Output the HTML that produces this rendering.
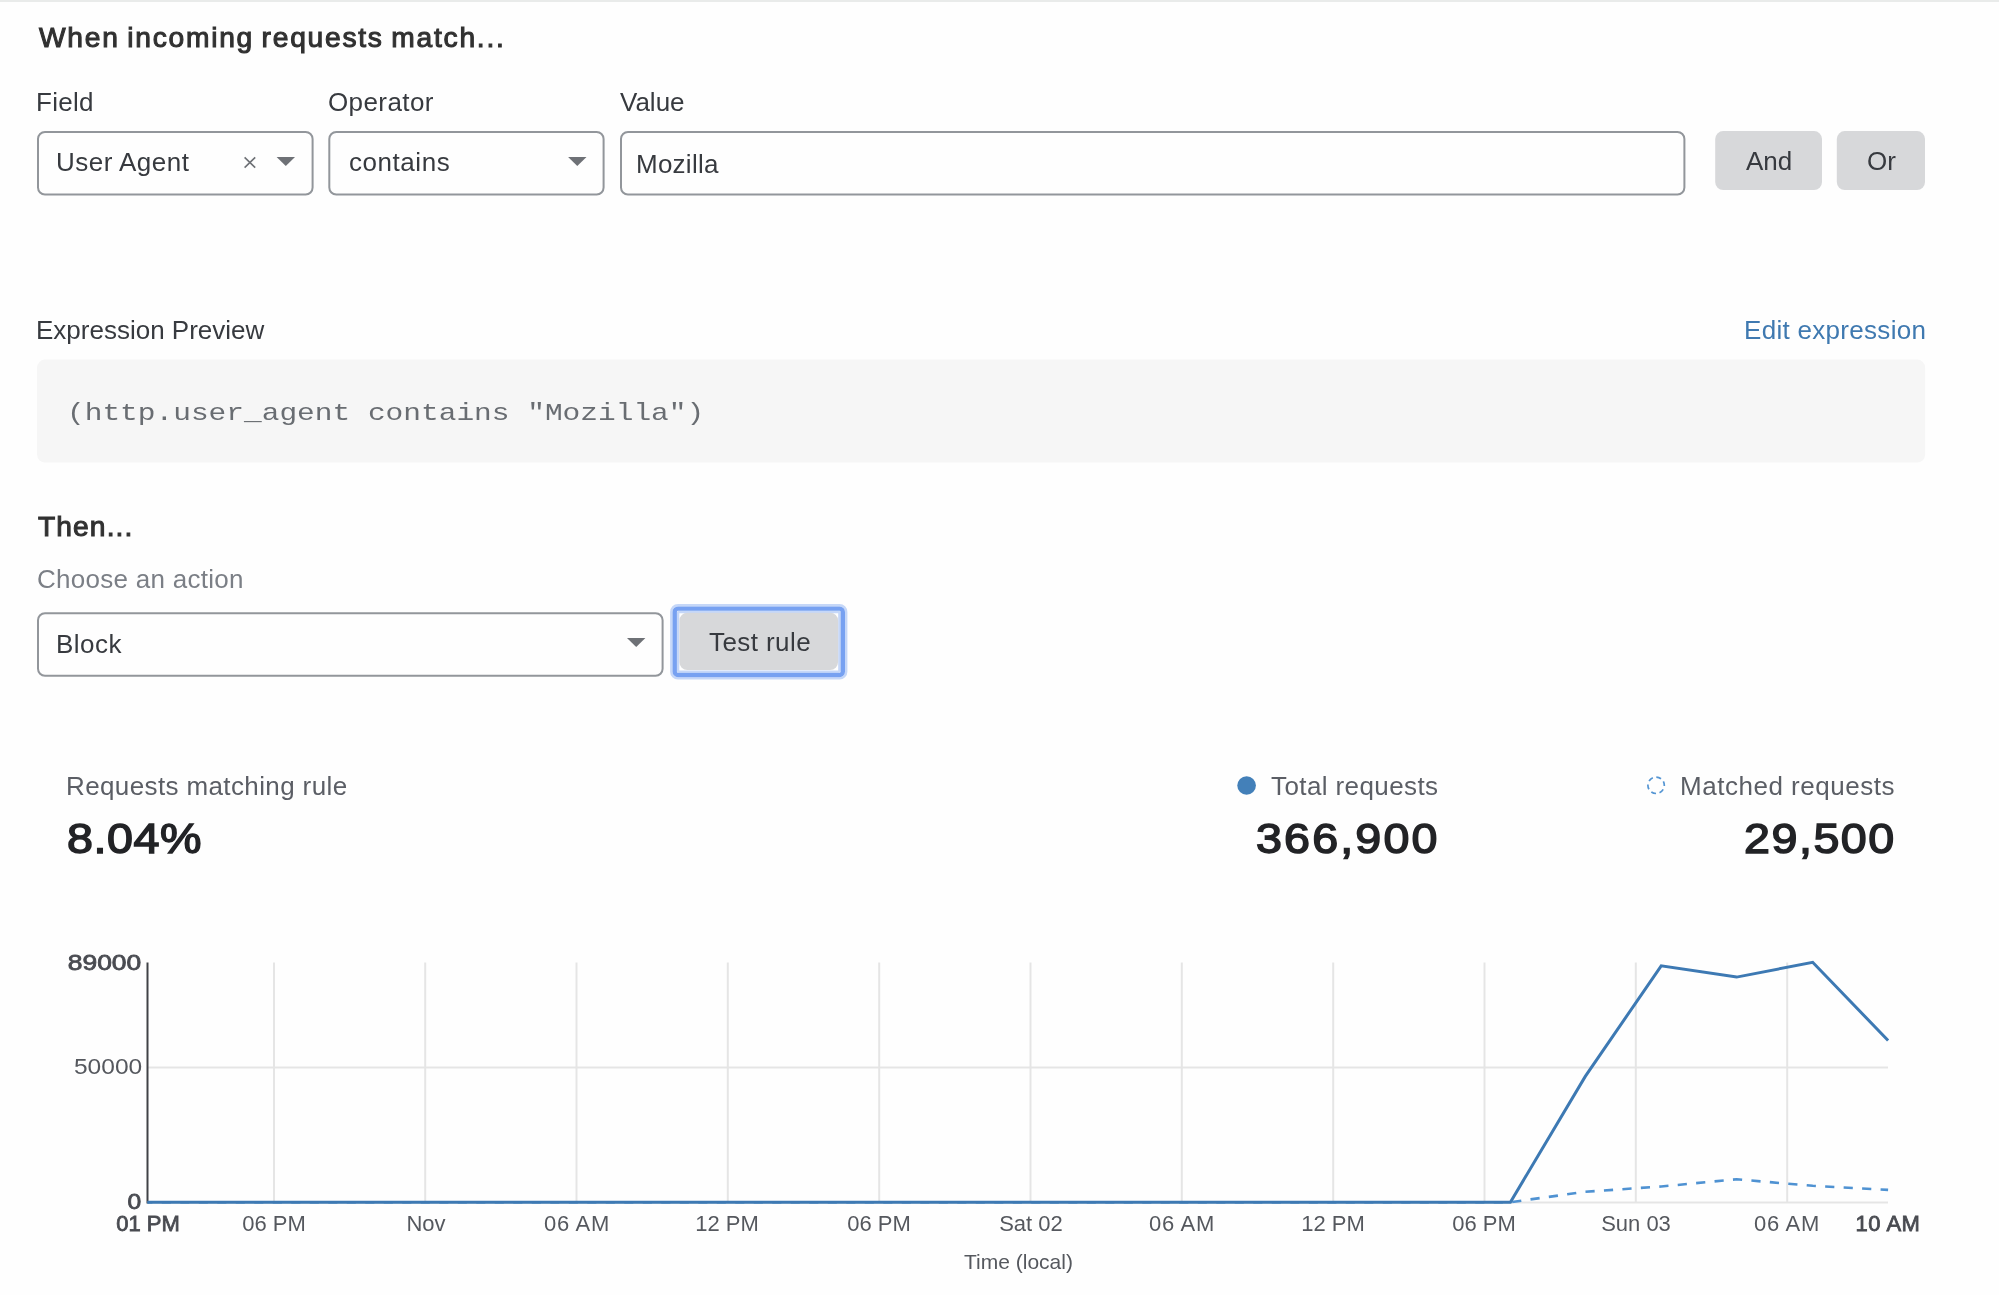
<!DOCTYPE html>
<html>
<head>
<meta charset="utf-8">
<title>Firewall rule</title>
<style>
  html, body { margin: 0; padding: 0; }
  body {
    width: 1999px; height: 1295px; overflow: hidden; position: relative;
    background: #fefefe;
    font-family: "Liberation Sans", sans-serif;
    color: #373a3f;
  }
  .topline { position: absolute; left: 0; top: 0; width: 1999px; height: 2px; background: #e9ebea; }
  .t { position: absolute; white-space: nowrap; line-height: 1; font-size: 26px; will-change: transform; }
  .h { font-weight: normal; font-size: 28.2px; color: #313131; -webkit-text-stroke: 1.05px #313131; letter-spacing: 1.75px; word-spacing: -2px; }
  .mono {
    position: absolute; white-space: pre; line-height: 1;
    font-family: "Liberation Mono", monospace; font-size: 24px; color: #696d72;
    transform: scaleX(1.229); transform-origin: 0 0; will-change: transform;
  }
  .big { font-size: 43.2px; color: #222326; -webkit-text-stroke: 1.5px #222326; transform: scaleX(1.08); transform-origin: 0 50%; }
  .muted { color: #5b5e65; }
  svg { position: absolute; left: 0; top: 0; }
  .ax { font-size: 22px; color: #55585e; }
  .axb { font-size: 22px; color: #494b51; font-weight: normal; -webkit-text-stroke: 0.8px #494b51; }
</style>
</head>
<body>
<div class="topline"></div>

<svg width="1999" height="1295" viewBox="0 0 1999 1295" id="shapes">
  <!-- inputs / selects -->
  <g fill="#fefefe" stroke="#92969b" stroke-width="2">
    <rect x="38" y="131.9" width="274.6" height="62.6" rx="7"/>
    <rect x="329.3" y="131.9" width="274.3" height="62.6" rx="7"/>
    <rect x="621" y="131.9" width="1063.4" height="62.6" rx="7"/>
    <rect x="38" y="613.2" width="624.6" height="62.6" rx="7"/>
  </g>
  <!-- clear icon -->
  <path d="M244.6 157.4 L255.2 167.6 M255.2 157.4 L244.6 167.6" stroke="#6e7176" stroke-width="1.6" fill="none"/>
  <!-- dropdown carets -->
  <g fill="#6e7176">
    <path d="M276.6 157 H295 L285.8 166 Z"/>
    <path d="M568.1 157 H586.5 L577.3 166 Z"/>
    <path d="M627 638 H645.4 L636.2 647 Z"/>
  </g>
  <!-- buttons -->
  <g fill="#d7d8da">
    <rect x="1715.2" y="131.1" width="106.8" height="58.9" rx="8"/>
    <rect x="1836.8" y="131.1" width="88.2" height="58.9" rx="8"/>
  </g>
  <!-- expression preview block -->
  <rect x="37.1" y="359.6" width="1888" height="103" rx="8" fill="#f6f6f6"/>
  <!-- focused Test rule button -->
  <rect x="671.3" y="605.2" width="174.9" height="73.2" rx="6.7" fill="none" stroke="#77a1f1" stroke-opacity="0.42" stroke-width="2.4"/>
  <rect x="674.7" y="608.6" width="168.1" height="66.4" rx="3.3" fill="none" stroke="#77a1f1" stroke-width="4.4"/>
  <rect x="678.1" y="612" width="161.3" height="59.6" rx="0.6" fill="none" stroke="#77a1f1" stroke-opacity="0.42" stroke-width="2.4"/>
  <rect x="679.4" y="612.7" width="158.7" height="57.3" rx="8" fill="#d7d8da"/>
</svg>

<!-- Section 1 -->
<div class="t h" id="h1" style="left:38.5px; top:23.4px;">When incoming requests match...</div>

<div class="t" id="lField" style="left:36px; top:88.6px; letter-spacing:0.3px;">Field</div>
<div class="t" id="lOperator" style="left:328px; top:88.6px; letter-spacing:0.4px;">Operator</div>
<div class="t" id="lValue" style="left:620px; top:88.6px;">Value</div>

<div class="t" id="tUA" style="left:56.4px; top:149.3px; letter-spacing:0.47px;">User Agent</div>

<div class="t" id="tContains" style="left:348.5px; top:149.3px; letter-spacing:0.55px;">contains</div>

<div class="t" id="tMozilla" style="left:635.6px; top:151.1px; letter-spacing:0.25px;">Mozilla</div>

<div class="t" id="tAnd" style="left:1746px; top:147.5px;">And</div>
<div class="t" id="tOr" style="left:1866.5px; top:147.5px;">Or</div>

<!-- Expression preview -->
<div class="t" id="tExpr" style="left:36px; top:317px;">Expression Preview</div>
<div class="t" id="tEdit" style="left:1743.5px; top:317px; color:#3f79b0; letter-spacing:0.3px;">Edit expression</div>
<div class="mono" id="tMono" style="left:67px; top:401.8px;">(http.user_agent contains "Mozilla")</div>

<!-- Then -->
<div class="t h" id="h2" style="left:38.4px; top:512.4px; letter-spacing:1.1px;">Then...</div>
<div class="t" id="tChoose" style="left:37.4px; top:566px; color:#7b7f86; letter-spacing:0.27px;">Choose an action</div>
<div class="t" id="tBlock" style="left:56.4px; top:631.1px; letter-spacing:0.45px;">Block</div>

<div class="t" id="tTest" style="left:709px; top:628.8px; letter-spacing:0.42px;">Test rule</div>

<!-- Stats -->
<div class="t muted" id="tReq" style="left:65.6px; top:773px; letter-spacing:0.38px;">Requests matching rule</div>
<div class="t big" id="tPct" style="left:66.8px; top:817px; letter-spacing:0.5px;">8.04%</div>

<div class="t muted" id="tTotal" style="left:1271.2px; top:772.8px; letter-spacing:0.4px;">Total requests</div>
<div class="t big" id="tTotalN" style="left:1255.5px; top:817px; letter-spacing:1.98px;">366,900</div>

<div class="t muted" id="tMatched" style="left:1680.3px; top:772.8px; letter-spacing:0.52px;">Matched requests</div>
<div class="t big" id="tMatchedN" style="left:1743.6px; top:817px; letter-spacing:1.4px;">29,500</div>

<!-- Chart -->
<svg width="1999" height="1295" viewBox="0 0 1999 1295" id="chart">
  <!-- legend markers -->
  <circle cx="1246.6" cy="785.5" r="9.3" fill="#4380b9"/>
  <circle cx="1656.1" cy="785.3" r="8.2" fill="none" stroke="#5495d3" stroke-width="1.7" stroke-dasharray="5 3.587" stroke-dashoffset="4.3"/>
  <!-- grid -->
  <g stroke="#e5e5e5" stroke-width="2" fill="none">
    <path d="M274 962.5V1202.5 M425.2 962.5V1202.5 M576.5 962.5V1202.5 M727.8 962.5V1202.5 M879.2 962.5V1202.5 M1030.5 962.5V1202.5 M1181.8 962.5V1202.5 M1333.2 962.5V1202.5 M1484.5 962.5V1202.5 M1635.8 962.5V1202.5 M1787.2 962.5V1202.5"/>
    <path d="M147.5 1067.6H1888 M147.5 1202.4H1888"/>
  </g>
  <!-- y axis -->
  <path d="M147.5 962.5V1203.5" stroke="#404246" stroke-width="2" fill="none"/>
  <!-- series -->
  <path d="M147.5 1202.2 H1510.4 L1585.3 1191.8 L1661.2 1186.5 L1736.6 1179.3 L1812.7 1185.8 L1888.1 1189.9" stroke="#4f92d2" stroke-width="2.6" fill="none" stroke-dasharray="9.2 9.3" stroke-dashoffset="4.3"/>
  <path d="M147.5 1202.2 H1510.4 L1585.3 1076.4 L1661.2 965.8 L1736.6 977.1 L1812.7 962.3 L1888.1 1040.5" stroke="#3d79b3" stroke-width="3" fill="none" stroke-linejoin="miter"/>
</svg>

<div class="t axb" id="y89" style="right:1858px; top:951.8px; transform:scaleX(1.2); transform-origin:100% 50%;">89000</div>
<div class="t ax"  id="y50" style="right:1856.6px; top:1056.4px; transform:scaleX(1.115); transform-origin:100% 50%;">50000</div>
<div class="t axb" id="y0"  style="right:1858px; top:1191.4px; transform:scaleX(1.12); transform-origin:100% 50%;">0</div>

<div class="t axb" id="x0"  style="left:87.6px; width:120px; text-align:center; top:1213.4px;">01 PM</div>
<div class="t ax" id="x1"  style="left:213.7px; width:120px; text-align:center; top:1213.4px;">06 PM</div>
<div class="t ax" id="x2"  style="left:365.5px; width:120px; text-align:center; top:1213.4px;">Nov</div>
<div class="t ax" id="x3"  style="left:516.6px; width:120px; text-align:center; top:1213.4px; letter-spacing:0.7px;">06 AM</div>
<div class="t ax" id="x4"  style="left:667.4px; width:120px; text-align:center; top:1213.4px;">12 PM</div>
<div class="t ax" id="x5"  style="left:819.0px; width:120px; text-align:center; top:1213.4px;">06 PM</div>
<div class="t ax" id="x6"  style="left:970.6px; width:120px; text-align:center; top:1213.4px;">Sat 02</div>
<div class="t ax" id="x7"  style="left:1121.7px; width:120px; text-align:center; top:1213.4px; letter-spacing:0.7px;">06 AM</div>
<div class="t ax" id="x8"  style="left:1273.0px; width:120px; text-align:center; top:1213.4px;">12 PM</div>
<div class="t ax" id="x9"  style="left:1424.4px; width:120px; text-align:center; top:1213.4px;">06 PM</div>
<div class="t ax" id="x10" style="left:1575.8px; width:120px; text-align:center; top:1213.4px;">Sun 03</div>
<div class="t ax" id="x11" style="left:1727.0px; width:120px; text-align:center; top:1213.4px; letter-spacing:0.7px;">06 AM</div>
<div class="t axb" id="x12" style="left:1828.4px; width:120px; text-align:center; top:1213.4px; letter-spacing:0.5px;">10 AM</div>

<div class="t" id="tTime" style="left:963.6px; top:1251px; font-size:21px; color:#55585e;">Time (local)</div>
</body>
</html>
